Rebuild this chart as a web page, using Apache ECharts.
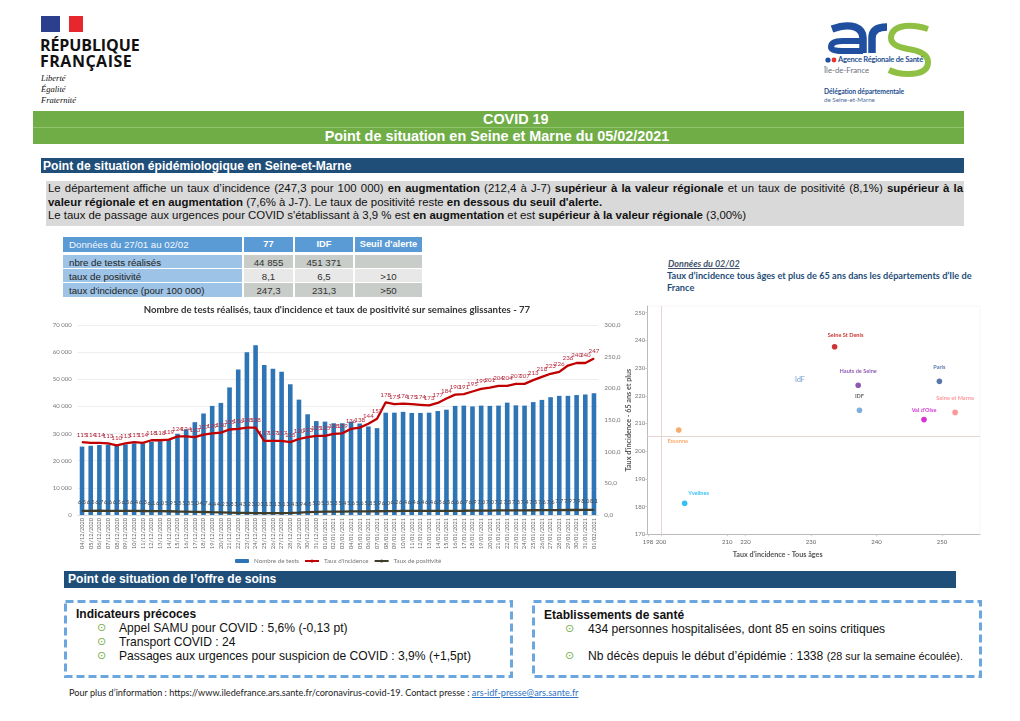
<!DOCTYPE html>
<html lang="fr">
<head>
<meta charset="utf-8">
<title>COVID 19 - Seine et Marne</title>
<script src="https://cdn.jsdelivr.net/npm/echarts@6/dist/echarts.min.js"></script>
<style>
html, body { margin: 0; padding: 0; background: #fff; }
body { position: relative; width: 1020px; height: 721px; overflow: hidden; font-family: "Liberation Sans", Arial, sans-serif; color: #111; }
.t { position: absolute; white-space: nowrap; line-height: 1; }
.box { position: absolute; }
.cal { font-family: Lato, "Open Sans", sans-serif; }
.bullet { font-family: "DejaVu Sans", sans-serif; color: #70ad47; font-size: 11px; }
.cell { position: absolute; text-align: center; font-size: 9.7px; line-height: 15px; color: #333; }
.cell.h { color: #fff; font-size: 9.3px; line-height: 15px; background: #5b9bd5; font-weight: bold; }
.cell.l { text-align: left; padding-left: 6px; box-sizing: border-box; background: #9dc3e6; color: #222; font-size: 9.7px; }
.dark { background: #c9cdca; }
.pale { background: #e7e8e7; }
#tests { position: absolute; left: 40px; top: 300px; width: 590px; height: 270px; filter: blur(.3px); }
#scatter { position: absolute; left: 620px; top: 296px; width: 380px; height: 270px; filter: blur(.3px); }
</style>
</head>
<body>

<!-- logo republique francaise -->
<div class="box" style="left:41px;top:16px;width:42px;height:16px;background:#fff"></div>
<div class="box" style="left:41px;top:16px;width:19px;height:16px;background:#2b3f8c"></div>
<div class="box" style="left:69px;top:16px;width:14px;height:16px;background:#e8262d"></div>
<div class="t" style="left:40px;top:37px;font:bold 16px 'Open Sans',sans-serif;letter-spacing:-.1px;line-height:16px">RÉPUBLIQUE</div>
<div class="t" style="left:40px;top:53px;font:bold 16px 'Open Sans',sans-serif;letter-spacing:.5px;line-height:16px">FRANÇAISE</div>
<div class="t" style="left:41px;top:73px;font:italic 8.5px 'Liberation Serif',serif">Liberté</div>
<div class="t" style="left:41px;top:84px;font:italic 8.5px 'Liberation Serif',serif">Égalité</div>
<div class="t" style="left:41px;top:95px;font:italic 8.5px 'Liberation Serif',serif">Fraternité</div>

<!-- logo ars -->
<svg class="box" style="left:0;top:0" width="1020" height="120" fill="none">
  <path d="M832 29 Q846 24 855 27 Q863 30 863 38 V53" stroke="#1f4f9e" stroke-width="7.5"/>
  <path d="M863 41 H843 Q831 41 831 47 Q831 51 842 51 H863" stroke="#1f4f9e" stroke-width="6"/>
  <path d="M872 53 V38 Q872 27 887 27" stroke="#1f4f9e" stroke-width="7.5"/>
  <path d="M928 29 Q915 25 905 26 Q891 28 891 38 Q891 46 908 49 Q928 52 928 62 Q928 74 908 74 Q897 74 889 70" stroke="#8fc043" stroke-width="6"/>
  <circle cx="828" cy="60" r="2.6" fill="#1f4f9e"/>
  <circle cx="834" cy="60" r="2.4" fill="#e5352b"/>
</svg>
<div class="t cal" style="left:838px;top:56px;font-size:7.6px;font-weight:700;letter-spacing:-.25px;color:#1f4f8e">Agence Régionale de Santé</div>
<div class="t cal" style="left:824px;top:67px;font-size:7.8px;color:#6a7280">Île-de-France</div>
<div class="t cal" style="left:824px;top:88px;font-size:6.8px;font-weight:700;letter-spacing:-.1px;color:#1f4f8e">Délégation départementale</div>
<div class="t cal" style="left:824px;top:97px;font-size:6.2px;color:#4a6a9a">de Seine-et-Marne</div>

<!-- bandeau titre -->
<div class="box" style="left:33px;top:111px;width:931px;height:33px;background:#70ad47"></div>
<div class="box" style="left:33px;top:127px;width:931px;height:1px;background:#8fc46c"></div>
<div class="t" style="left:483px;top:112px;font-weight:bold;font-size:14.4px;color:#fff;line-height:15px">COVID 19</div>
<div class="t" style="left:33px;width:928px;top:129px;text-align:center;font-weight:bold;font-size:14.4px;color:#fff;line-height:15px">Point de situation en Seine et Marne du 05/02/2021</div>

<!-- situation epidemio -->
<div class="box" style="left:41px;top:158px;width:923px;height:15px;background:#1f4e79"></div>
<div class="t" style="left:43px;top:159px;font-weight:bold;font-size:12.1px;color:#fff;line-height:14px">Point de situation épidémiologique en Seine-et-Marne</div>

<div class="box" style="left:46px;top:181px;width:918px;height:45px;background:#d9d9d9"></div>
<div class="t" style="left:48px;top:181px;width:915px;font-size:11.4px;line-height:14px;white-space:normal;text-align:justify;text-align-last:justify">Le département affiche un taux d’incidence (247,3 pour 100 000) <b>en augmentation</b> (212,4 à J-7) <b>supérieur à la valeur régionale</b> et un taux de positivité (8,1%) <b>supérieur à la</b></div>
<div class="t" style="left:48px;top:195px;font-size:11.4px;line-height:14px"><b>valeur régionale et en augmentation</b> (7,6% à J-7). Le taux de positivité reste <b>en dessous du seuil d'alerte.</b></div>
<div class="t" style="left:48px;top:208px;font-size:11.4px;line-height:14px">Le taux de passage aux urgences pour COVID s'établissant à 3,9 % est <b>en augmentation</b> et est <b>supérieur à la valeur régionale</b> (3,00%)</div>

<!-- tableau -->
<div class="cell h l" style="left:63px;top:237px;width:179px;height:15px;background:#5b9bd5;color:#f4f8fc;font-weight:normal;font-size:9.7px">Données du 27/01 au 02/02</div>
<div class="cell h" style="left:244px;top:237px;width:49px;height:15px">77</div>
<div class="cell h" style="left:295px;top:237px;width:58px;height:15px">IDF</div>
<div class="cell h" style="left:355px;top:237px;width:67px;height:15px">Seuil d'alerte</div>

<div class="cell l" style="left:63px;top:255px;width:179px;height:13px">nbre de tests réalisés</div>
<div class="cell dark" style="left:244px;top:255px;width:49px;height:13px">44 855</div>
<div class="cell dark" style="left:295px;top:255px;width:58px;height:13px">451 371</div>
<div class="cell dark" style="left:355px;top:255px;width:67px;height:13px"></div>

<div class="cell l" style="left:63px;top:269px;width:179px;height:13px">taux de positivité</div>
<div class="cell pale" style="left:244px;top:269px;width:49px;height:13px">8,1</div>
<div class="cell pale" style="left:295px;top:269px;width:58px;height:13px">6,5</div>
<div class="cell pale" style="left:355px;top:269px;width:67px;height:13px">&gt;10</div>

<div class="cell l" style="left:63px;top:283px;width:179px;height:14px">taux d'incidence (pour 100 000)</div>
<div class="cell dark" style="left:244px;top:283px;width:49px;height:14px">247,3</div>
<div class="cell dark" style="left:295px;top:283px;width:58px;height:14px">231,3</div>
<div class="cell dark" style="left:355px;top:283px;width:67px;height:14px">&gt;50</div>

<!-- legende scatter -->
<div class="t cal" style="left:668px;top:259px;font-size:9px;font-style:italic;font-weight:700;text-decoration:underline;color:#44546a">Données du 02/02</div>
<div class="t cal" style="left:667px;top:271px;font-size:9.2px;font-weight:700;color:#1f4e79">Taux d’incidence tous âges et plus de 65 ans dans les départements d’Ile de</div>
<div class="t cal" style="left:667px;top:283px;font-size:9.2px;font-weight:700;color:#1f4e79">France</div>

<div id="tests"></div>
<div id="scatter"></div>

<!-- offre de soins -->
<div class="box" style="left:64px;top:571px;width:892px;height:17px;background:#1f4e79"></div>
<div class="t" style="left:68px;top:572px;font-weight:bold;font-size:12.1px;color:#fff;line-height:14px">Point de situation de l’offre de soins</div>

<svg class="box" style="left:0;top:590px" width="1020" height="100" fill="none">
  <rect x="65.5" y="11.5" width="446" height="75" stroke="#6ca6de" stroke-width="3" stroke-dasharray="8 4"/>
  <rect x="533.5" y="11.5" width="447" height="75" stroke="#6ca6de" stroke-width="3" stroke-dasharray="8 4"/>
</svg>

<div class="t" style="left:76px;top:608px;font-size:12px;font-weight:bold">Indicateurs précoces</div>
<div class="t bullet" style="left:97px;top:622px">⊙</div>
<div class="t" style="left:119px;top:622px;font-size:12.1px">Appel SAMU pour COVID : 5,6% (-0,13 pt)</div>
<div class="t bullet" style="left:97px;top:636px">⊙</div>
<div class="t" style="left:119px;top:636px;font-size:12.1px">Transport COVID : 24</div>
<div class="t bullet" style="left:97px;top:650px">⊙</div>
<div class="t" style="left:119px;top:650px;font-size:12.1px">Passages aux urgences pour suspicion de COVID : 3,9% (+1,5pt)</div>

<div class="t" style="left:544px;top:609px;font-size:12px;font-weight:bold">Etablissements de santé</div>
<div class="t bullet" style="left:565px;top:623px">⊙</div>
<div class="t" style="left:588px;top:623px;font-size:12.1px">434 personnes hospitalisées, dont 85 en soins critiques</div>
<div class="t bullet" style="left:565px;top:650px">⊙</div>
<div class="t" style="left:588px;top:650px;font-size:12.1px">Nb décès depuis le début d’épidémie : 1338 <span style="font-size:10.8px">(28 sur la semaine écoulée).</span></div>

<div class="t cal" style="left:69px;top:688px;font-size:9.15px;color:#222">Pour plus d’information : https://www.iledefrance.ars.sante.fr/coronavirus-covid-19. Contact presse : <span style="color:#2e75c6;text-decoration:underline">ars-idf-presse@ars.sante.fr</span></div>

<script>
// tests, incidence, positivite - 77
const days = ['04/12/2020','05/12/2020','06/12/2020','07/12/2020','08/12/2020','09/12/2020','10/12/2020','11/12/2020','12/12/2020','13/12/2020',
  '14/12/2020','15/12/2020','16/12/2020','17/12/2020','18/12/2020','19/12/2020','20/12/2020','21/12/2020','22/12/2020','23/12/2020',
  '24/12/2020','25/12/2020','26/12/2020','27/12/2020','28/12/2020','29/12/2020','30/12/2020','31/12/2020','01/01/2021','02/01/2021',
  '03/01/2021','04/01/2021','05/01/2021','06/01/2021','07/01/2021','08/01/2021','09/01/2021','10/01/2021','11/01/2021','12/01/2021',
  '13/01/2021','14/01/2021','15/01/2021','16/01/2021','17/01/2021','18/01/2021','19/01/2021','20/01/2021','21/01/2021','22/01/2021',
  '23/01/2021','24/01/2021','25/01/2021','26/01/2021','27/01/2021','28/01/2021','29/01/2021','30/01/2021','31/01/2021','01/02/2021'];
const testCounts = [25200,25500,25800,25900,25500,26000,26400,26400,27000,27200,
  27600,29900,31600,34200,37400,40200,41300,47000,53600,60000,
  62500,55300,53900,52800,48200,42500,37100,34600,34400,33800,
  33800,34400,33700,32600,32000,37700,37700,38000,37600,37600,
  37700,38300,38800,40200,40300,40000,40300,40200,40300,41400,
  40400,40300,41600,42400,43400,43900,43900,44200,44400,44855];
const incidence = [115,114,114,113,110,113,115,114,118,118,
  119,124,124,123,127,129,130,135,136,138,
  138,117,117,117,115,120,123,125,125,128,
  129,136,138,144,152,178,175,176,175,174,
  173,177,184,190,191,195,199,201,204,204,
  207,207,213,218,223,226,236,240,240,247];
const positivity = [6.5,6.5,6.7,6.6,6.5,6.5,6.4,6.3,6.1,6,
  5.9,5.5,5.3,5,4.7,4.4,4.2,3.8,3.4,3.2,
  3,3.1,3.1,3.1,3.4,3.9,4.5,5,5.3,5.3,
  5.4,5.6,5.6,5.8,5.9,6,6.2,6.4,6.4,6.4,
  6.4,6.5,6.5,6.6,6.7,6.9,7,7,7.2,7.3,
  7.3,7.4,7.5,7.6,7.6,7.7,7.9,7.9,8,8.1];

// incidence par departement
const deptNames = ['Seine St Denis','Hauts de Seine','Paris','IDF','Seine et Marne',"Val d'Oise",'Essonne','Yvelines','IdF'];
const deptAll = [233.6,237.2,249.6,237.4,252,247.25,209.8,210.7,228.3];
const dept65 = [237.7,223.8,225.2,214.75,214,211.4,207.65,181.2,224.7];
const deptColors = ['#c00000','#7030a0','#2f5597','#5b9bd5','#ff7c80','#cc00cc','#f79646','#00b0f0','#4a7ebb'];
// les etiquettes de l'axe x ne sont pas regulieres sur l'image
const xTickValues = [205.1,207.1,217.2,220,230,240,250];
const xTickNames = ['198','200','210','220','230','240','250'];

const grey = '#777';
const font = 'Lato, "Open Sans", sans-serif';

const testsChart = echarts.init(document.getElementById('tests'));
testsChart.setOption({
  animation: false,
  textStyle: { fontFamily: font },
  title: {
    text: "Nombre de tests réalisés, taux d'incidence et taux de positivité sur semaines glissantes - 77",
    left: 292, top: 0, textAlign: 'center',
    textStyle: { fontSize: 9.6, fontWeight: 'bold', color: '#333', fontFamily: font }
  },
  legend: {
    left: 190, top: 253, itemWidth: 14, itemHeight: 4, itemGap: 5,
    textStyle: { fontSize: 6.2, color: grey },
    data: ['Nombre de tests', "Taux d'incidence", 'Taux de positivité']
  },
  grid: { left: 37.7, right: 31.7, top: 25, bottom: 55, outerBoundsMode: 'none' },
  xAxis: {
    type: 'category',
    data: days,
    axisTick: { show: false },
    axisLine: { lineStyle: { color: '#ddd' } },
    axisLabel: { interval: 0, rotate: 90, fontSize: 5.6, color: '#666', margin: 3 }
  },
  yAxis: [
    {
      type: 'value', min: 0, max: 70000, interval: 10000,
      axisLabel: { fontSize: 6, color: grey, margin: 6, formatter: v => String(v).replace(/(\d)(?=\d{3}$)/, '$1 ') },
      splitLine: { lineStyle: { color: '#eee' } }
    },
    {
      type: 'value', min: 0, max: 300, interval: 50,
      axisLabel: { fontSize: 6.4, color: grey, margin: 6, formatter: v => v.toFixed(1).replace('.', ',') },
      splitLine: { show: false }
    }
  ],
  series: [
    {
      name: 'Nombre de tests', type: 'bar', barWidth: 4.6,
      itemStyle: { color: '#2e75b6' },
      data: testCounts
    },
    {
      name: "Taux d'incidence", type: 'line', yAxisIndex: 1,
      symbol: 'circle', symbolSize: 1, showAllSymbol: true,
      lineStyle: { color: '#c00000', width: 2.3 },
      itemStyle: { color: '#c00000' },
      label: { show: true, position: 'top', distance: 4, fontSize: 6.2, color: '#b5283c' },
      labelLayout: { hideOverlap: false },
      data: incidence
    },
    {
      name: 'Taux de positivité', type: 'line', yAxisIndex: 1,
      symbol: 'circle', symbolSize: 1, showAllSymbol: true,
      lineStyle: { color: '#3f3d2a', width: 2.3 },
      itemStyle: { color: '#3f3d2a' },
      label: {
        show: true, position: 'top', distance: 5, fontSize: 5.8, color: '#444',
        formatter: p => p.value.toFixed(1).replace('.', ',')
      },
      labelLayout: { hideOverlap: false },
      data: positivity
    }
  ]
});

const labelOpts = {
  'Seine St Denis': { position: 'top', offset: [11, -1] },
  'Hauts de Seine': { position: 'top', offset: [0, -3] },
  'Paris': { position: 'top', offset: [0, -3] },
  'IDF': { position: 'top', offset: [0, -3], color: '#444' },
  'Seine et Marne': { position: 'top', offset: [0, -3] },
  "Val d'Oise": { position: 'top', offset: [0, 1] },
  'Essonne': { position: 'bottom', offset: [-1, 0] },
  'Yvelines': { position: 'top', offset: [14, 1] },
  'IdF': { position: 'top', offset: [0, 6], fontSize: 7, fontWeight: 'normal' }
};

const scatterChart = echarts.init(document.getElementById('scatter'));
scatterChart.setOption({
  animation: false,
  textStyle: { fontFamily: font },
  grid: { left: 27.3, right: 20, top: 10, bottom: 31.7, show: true, borderColor: '#f6f6f6', borderWidth: 1, outerBoundsMode: 'none' },
  xAxis: {
    type: 'value', min: 205, max: 255.8,
    name: "Taux d'incidence - Tous âges",
    nameLocation: 'middle', nameGap: 17, nameMoveOverlap: false,
    nameTextStyle: { fontSize: 7.2, fontWeight: 'bold', color: '#555', align: 'center', padding: [0, 72, 0, 0] },
    splitLine: { show: false },
    axisLine: { lineStyle: { color: '#bbb' } },
    axisTick: { show: true, length: 2, lineStyle: { color: '#ccc' }, customValues: xTickValues },
    axisLabel: {
      fontSize: 6, color: '#666', margin: 5,
      customValues: xTickValues,
      formatter: v => xTickNames[xTickValues.indexOf(v)]
    }
  },
  yAxis: {
    type: 'value', min: 170, max: 252.4, interval: 10,
    name: "Taux d'incidence - 65 ans et plus",
    nameLocation: 'middle', nameGap: 15, nameMoveOverlap: false,
    nameTextStyle: { fontSize: 7.2, fontWeight: 'bold', color: '#555' },
    splitLine: { show: false },
    axisLine: { show: true, lineStyle: { color: '#bbb' } },
    axisTick: { show: true, length: 2, lineStyle: { color: '#ccc' } },
    axisLabel: { fontSize: 6, color: '#777', margin: 2, showMaxLabel: false }
  },
  series: [{
    type: 'scatter',
    symbolSize: 5.6,
    label: { show: true, formatter: '{b}', fontSize: 5.6, fontWeight: 'bold' },
    markLine: {
      silent: true, symbol: 'none', animation: false,
      label: { show: false },
      lineStyle: { color: '#e8d5d2', type: 'solid', width: 1 },
      data: [{ xAxis: 207.1 }, { yAxis: 205.25 }]
    },
    data: deptNames.map((name, i) => ({
      name,
      value: [deptAll[i], dept65[i]],
      symbolSize: name === 'IdF' ? 0 : 5.6,
      itemStyle: { color: deptColors[i] },
      label: Object.assign({ color: deptColors[i] }, labelOpts[name])
    }))
  }]
});
</script>
</body>
</html>
